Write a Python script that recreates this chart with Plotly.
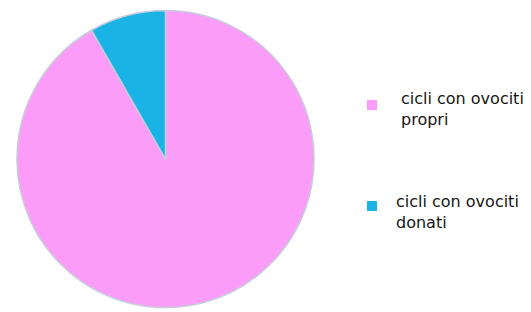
import plotly.graph_objects as go

labels = ["cicli con ovociti propri", "cicli con ovociti donati"]
legend_text = ["cicli con ovociti<br>propri", "cicli con ovociti<br>donati"]
values = [91.7, 8.3]
colors = ["#FB9CF8", "#1AB3E6"]

W, H = 531, 312
OFF = 8  # page body margin in the browser


def px(x):
    return (x - OFF) / W


def py(y):
    return 1 - (y - OFF) / H


fig = go.Figure()
fig.add_trace(go.Pie(
    labels=labels, values=values, sort=False, direction="clockwise", rotation=0,
    marker=dict(colors=colors, line=dict(color="#C8CCDA", width=1.5)),
    textinfo="none", hoverinfo="label+percent", showlegend=False,
    domain=dict(x=[px(17), px(314)], y=[py(307.5), py(10.5)]),
))

sq_y = [105, 206]
txt_x = [399, 394]
txt_top = [87, 190]
for i, (t, c) in enumerate(zip(legend_text, colors)):
    y = sq_y[i]
    fig.add_shape(type="rect", xref="paper", yref="paper",
                  x0=px(367), x1=px(377), y0=py(y + 5), y1=py(y - 5),
                  fillcolor=c, line=dict(color=c, width=0))
    fig.add_annotation(xref="paper", yref="paper", x=px(txt_x[i]), y=py(txt_top[i]),
                       xanchor="left", yanchor="top", text=t, showarrow=False, align="left",
                       font=dict(family="DejaVu Sans", size=16, color="#151515"))

fig.update_layout(width=W, height=H, margin=dict(l=0, r=0, t=0, b=0),
                  paper_bgcolor="white", plot_bgcolor="white")
fig.write_html("out.html")
